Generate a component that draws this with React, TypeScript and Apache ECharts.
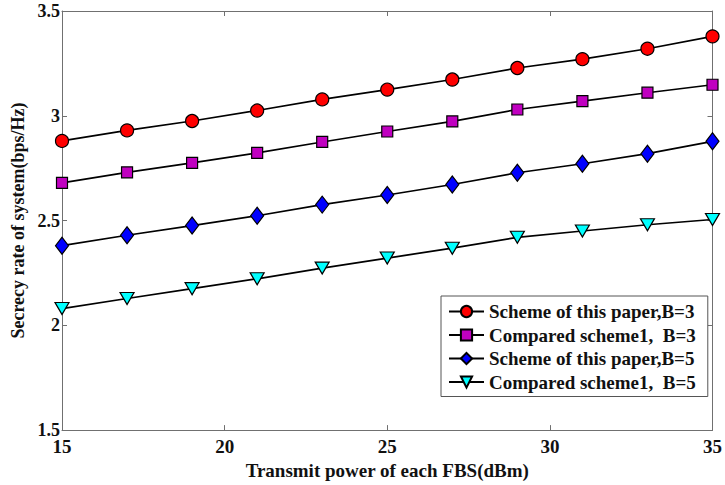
import React, { useEffect, useRef } from "react";
import * as echarts from "echarts";

const xValues = [15, 17, 19, 21, 23, 25, 27, 29, 31, 33, 35];
const seriesNames = [
  "Scheme of this paper,B=3",
  "Compared scheme1,  B=3",
  "Scheme of this paper,B=5",
  "Compared scheme1,  B=5",
];
const proposedB3 = [2.88, 2.93, 2.975, 3.025, 3.078, 3.125, 3.173, 3.228, 3.27, 3.32, 3.379];
const comparedB3 = [2.68, 2.73, 2.775, 2.823, 2.875, 2.925, 2.973, 3.03, 3.07, 3.11, 3.148];
const proposedB5 = [2.38, 2.43, 2.476, 2.523, 2.576, 2.622, 2.672, 2.728, 2.771, 2.819, 2.878];
const comparedB5 = [2.08, 2.128, 2.175, 2.222, 2.273, 2.321, 2.368, 2.42, 2.45, 2.48, 2.505];
const xTicks = [15, 20, 25, 30, 35];
const yTicks = [1.5, 2, 2.5, 3, 3.5];

const FONT = "'Liberation Serif', 'Times New Roman', serif";

export default function App() {
  const ref = useRef<HTMLDivElement>(null);
  useEffect(() => {
    if (!ref.current) return;
    const chart = echarts.init(ref.current, undefined, { renderer: "svg" });
    const axisColor = "#707070";
    const toPairs = (arr: number[]) => arr.map((v, i) => [xValues[i], v]);
    const mk = (name: string, data: number[], symbol: string, color: string, size: any, rotate = 0) => ({
      name,
      type: "line",
      data: toPairs(data),
      symbol,
      symbolSize: size,
      symbolRotate: rotate,
      showAllSymbol: true,
      lineStyle: { color: "#000", width: 1.7 },
      itemStyle: { color, borderColor: "#000", borderWidth: 1.2 },
      emphasis: { disabled: true },
      z: 3,
    });
    chart.setOption({
      animation: false,
      backgroundColor: "#fff",
      textStyle: { fontFamily: FONT },
      grid: { left: 62, right: 5, top: 11, bottom: 49 },
      legend: {
        orient: "vertical",
        left: 441,
        top: 296,
        backgroundColor: "#fff",
        borderColor: "#555",
        borderWidth: 1,
        padding: [6, 12, 5, 7],
        itemWidth: 35,
        itemHeight: 14,
        itemGap: 4.5,
        textStyle: {
          fontFamily: FONT,
          fontWeight: "bold",
          fontSize: 19,
          lineHeight: 19,
          color: "#111",
        },
        data: seriesNames,
      },
      xAxis: [
        {
          type: "value",
          min: 15,
          max: 35,
          interval: 5,
          name: "Transmit power of each FBS(dBm)",
          nameLocation: "middle",
          nameGap: 16,
          nameTextStyle: {
            fontFamily: FONT,
            fontWeight: "bold",
            fontSize: 19,
            color: "#111",
            verticalAlign: "top",
          },
          axisLine: { show: true, lineStyle: { color: axisColor, width: 1 } },
          axisTick: { inside: true, length: 5, lineStyle: { color: axisColor } },
          axisLabel: {
            margin: 10,
            fontFamily: FONT,
            fontWeight: "bold",
            fontSize: 19,
            lineHeight: 13,
            color: "#111",
            formatter: (v: number) => (xTicks.includes(v) ? String(v) : ""),
          },
          splitLine: { show: false },
        },
        {
          type: "value",
          position: "top",
          min: 15,
          max: 35,
          interval: 5,
          axisLine: { show: true, lineStyle: { color: axisColor, width: 1 } },
          axisTick: { inside: true, length: 5, lineStyle: { color: axisColor } },
          axisLabel: { show: false },
          splitLine: { show: false },
        },
      ],
      yAxis: [
        {
          type: "value",
          min: 1.5,
          max: 3.5,
          interval: 0.5,
          name: "Secrecy rate of system(bps/Hz)",
          nameLocation: "middle",
          nameGap: 33,
          nameTextStyle: { fontFamily: FONT, fontWeight: "bold", fontSize: 18, color: "#111" },
          axisLine: { show: true, lineStyle: { color: axisColor, width: 1 } },
          axisTick: { inside: true, length: 5, lineStyle: { color: axisColor } },
          axisLabel: {
            margin: 2,
            fontFamily: FONT,
            fontWeight: "bold",
            fontSize: 18,
            lineHeight: 12,
            color: "#111",
            formatter: (v: number) => (yTicks.includes(v) ? String(v) : ""),
          },
          splitLine: { show: false },
        },
        {
          type: "value",
          position: "right",
          min: 1.5,
          max: 3.5,
          interval: 0.5,
          axisLine: { show: true, lineStyle: { color: axisColor, width: 1 } },
          axisTick: { inside: true, length: 5, lineStyle: { color: axisColor } },
          axisLabel: { show: false },
          splitLine: { show: false },
        },
      ],
      series: [
        mk(seriesNames[0], proposedB3, "circle", "#ff0000", 13),
        mk(seriesNames[1], comparedB3, "rect", "#c000c0", 11),
        mk(seriesNames[2], proposedB5, "diamond", "#0000ff", [13, 17]),
        mk(seriesNames[3], comparedB5, "triangle", "#00ffff", [14, 12], 180),
      ],
    });
    return () => chart.dispose();
  }, []);
  return (
    <div
      ref={ref}
      style={{ position: "fixed", left: 0, top: 0, width: 725, height: 485, background: "#fff" }}
    />
  );
}
